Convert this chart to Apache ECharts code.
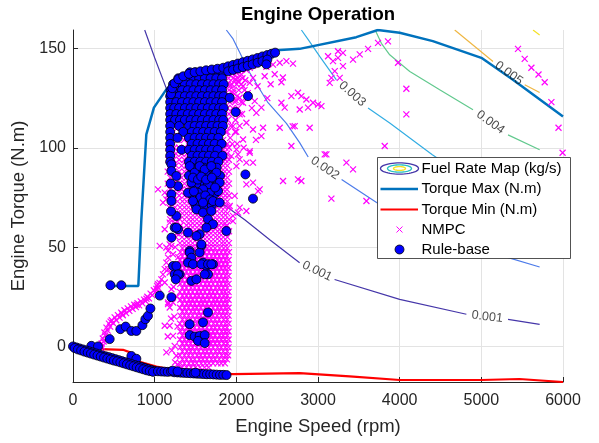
<!DOCTYPE html>
<html><head><meta charset="utf-8">
<script src="https://cdn.jsdelivr.net/npm/echarts@6/dist/echarts.min.js"></script>
<style>html,body{margin:0;padding:0;background:#fff}#c{width:599px;height:443px}</style>
</head><body><div id="c"></div>
<script>
// ---------- axes ----------
const xTicks = [0, 1000, 2000, 3000, 4000, 5000, 6000];
const yTicks = [0, 50, 100, 150];
const xRange = [0, 6000];
const yRange = [-17.9, 159.3];

// ---------- torque limits ----------
const torqueMax = [[450,30.4],[800,30.4],[837,64],[898,106.8],[991,120.2],[1143,129.4],[1300,132],[1500,135],[1800,138.5],[2100,142.5],[2490,149.1],[2775,149.8],[3469,155.7],[3733,159.3],[4000,157.9],[4406,153.7],[5000,145.3],[5383,134.4],[6000,115.7]];
const torqueMin = [[260,-1.2],[612,-1.7],[700,-3],[817,-7.7],[1021,-10.1],[1300,-12.3],[1600,-13.3],[1959,-13.9],[2776,-13.4],[3388,-15.1],[4001,-16.9],[5001,-16.9],[5466,-16.4],[6000,-17.9]];

// ---------- fuel rate contours (null = label gap) ----------
const contourLevels = ['0.001','0.002','0.003','0.004','0.005','0.006'];
const contour001 = [[878,159.3],[1000,145.3],[1147,129.4],[1300,112],[1500,92],[1714,77],[1817,72.2],[2103,63.8],[2409,53.7],[2775,42.1],null,[3203,33.7],[4000,23.7],[4817,16.2],null,[5327,13.6],[5714,11.1]];
const contour002 = [[1878,159.3],[1960,154.8],[2164,137.8],[2388,122.7],[2613,112.3],[2775,102.6],[2880,95.4],null,[3289,84],[3717,72.5],[4200,62],[4700,53],[5309,45],[5714,40]];
const contour003 = [[2797,159.3],[2878,154.6],[3021,146],[3225,134.2],null,[3613,120],[3878,112.5],[4400,96.5],[5000,80],[5714,66]];
const contour004 = [[3700,159.3],[3776,152.6],[3878,146.8],[4124,138.4],[4490,129.2],[4898,119.1],null,[5327,106.5],[5714,99]];
const contour005 = [[4674,159.3],[5143,143.4],null,[5531,131.7],[5714,127.8]];
const contour006 = [[5633,159.3],[5714,156.8]];

// ---------- NMPC (speed, torque) ----------
const nmpcTrail = [[350,1.5],[365,4],[385,7],[410,9.5],[440,11.5],[475,13.2],[510,14.6],[550,15.8],[590,17],[630,18.2],[670,19.2],[710,20.2],[750,21],[790,21.8],[830,22.7],[870,23.6],[910,25],[950,26.6],[990,28.3],[1030,30.5],[1060,32],
[355,0],[375,2.5],[395,5.5],[425,8],[455,10],[490,11.8],[530,13.2],[570,14.5],[610,15.7],[650,16.8],[690,17.9],[730,18.9],[770,19.8],[810,20.7],[850,21.7],[890,22.8],[930,24.2],[970,25.8],[1010,27.5],[1045,29.5],
[345,-1],[460,12.5],[600,16.5],[780,21],[900,24],[1020,29]];
// rows: [torque, speed, speed, ...]
const nmpcRows = [
[-10.5,1335,1390,1445,1500,1555,1610,1660],
[-8.5,1315,1365,1420,1470,1515,1570,1620,1665,1715,1770,1815,1860],
[-6.5,1340,1390,1445,1490,1545,1590,1640,1695,1740,1790,1840,1885],
[-4.5,1310,1365,1415,1465,1520,1565,1615,1665,1715,1765,1820,1865,1900],
[-2.5,1340,1395,1440,1490,1540,1595,1640,1690,1745,1790,1840,1890],
[-0.5,1315,1365,1420,1465,1515,1565,1620,1665,1715,1770,1815,1865,1905],
[1.5,1340,1390,1440,1495,1540,1590,1645,1690,1740,1790,1845,1890],
[3.5,1310,1365,1415,1465,1520,1565,1615,1670,1715,1765,1815,1860,1905],
[5.5,1340,1390,1445,1490,1540,1595,1640,1690,1740,1795,1840,1890],
[7.5,1315,1365,1415,1470,1515,1565,1620,1665,1715,1765,1820,1865,1905],
[9.5,1340,1395,1440,1490,1545,1590,1640,1695,1740,1790,1840,1885],
[11.5,1310,1365,1420,1465,1515,1570,1615,1665,1720,1765,1815,1865,1905],
[13.5,1340,1390,1440,1495,1540,1590,1645,1690,1740,1790,1845,1890],
[15.5,1315,1365,1415,1465,1520,1565,1615,1670,1715,1765,1815,1860,1905],
[17.5,1340,1390,1445,1490,1540,1595,1640,1690,1745,1790,1840,1890],
[19.5,1310,1365,1415,1470,1515,1565,1620,1665,1715,1770,1815,1865,1905],
[21.5,1340,1395,1440,1490,1545,1590,1640,1695,1740,1790,1840,1885],
[23.5,1315,1365,1420,1465,1515,1570,1615,1665,1720,1765,1815,1865,1905],
[25.5,1340,1390,1440,1495,1540,1590,1645,1690,1740,1795,1845,1890],
[27.5,1310,1365,1415,1465,1520,1565,1615,1670,1715,1765,1820,1860,1905],
[29.5,1340,1390,1445,1490,1540,1595,1640,1690,1745,1790,1840,1890],
[31.5,1315,1365,1415,1470,1515,1565,1620,1665,1715,1770,1815,1865,1905],
[33.5,1340,1395,1440,1490,1545,1590,1640,1695,1740,1790,1840,1885],
[35.5,1310,1365,1420,1465,1515,1570,1615,1665,1720,1765,1815,1865,1905],
[37.5,1340,1390,1440,1495,1540,1590,1645,1690,1740,1790,1845,1890],
[39.5,1315,1365,1415,1465,1520,1565,1615,1670,1715,1765,1815,1860,1905],
[41.5,1340,1390,1445,1490,1540,1595,1640,1690,1745,1790,1840,1890],
[43.5,1310,1365,1415,1470,1515,1565,1620,1665,1715,1770,1815,1865,1905],
[45.5,1340,1395,1440,1490,1545,1590,1640,1695,1740,1790,1840,1885],
[47.5,1315,1365,1420,1465,1515,1570,1615,1665,1720,1765,1815,1865,1910],
[49.5,1340,1390,1440,1495,1540,1590,1645,1690,1740,1795,1845,1890],
[52,1310,1365,1415,1465,1520,1565,1615,1670,1715,1765,1820,1860,1910],
[55,1335,1390,1445,1490,1540,1595,1640,1690,1745,1790,1840,1890],
[58,1300,1360,1415,1470,1515,1565,1620,1665,1715,1770,1815,1865,1910],
[61,1320,1390,1440,1490,1545,1590,1640,1695,1740,1790,1840,1885],
[64,1190,1250,1310,1365,1420,1465,1515,1570,1615,1665,1720,1765,1815,1865,1910],
[67,1220,1280,1340,1390,1440,1495,1540,1590,1645,1690,1740,1795,1845,1890],
[70,1180,1250,1310,1365,1415,1465,1520,1565,1615,1670,1715,1765,1815,1860,1910],
[73,1220,1280,1340,1390,1445,1490,1540,1595,1640,1690,1745,1790,1840,1890],
[76,1160,1230,1300,1365,1415,1470,1515,1565,1620,1665,1715,1770,1815,1865,1910],
[79,1190,1260,1330,1395,1440,1490,1545,1590,1640,1695,1740,1790,1840,1885],
[82,1160,1230,1300,1365,1420,1465,1515,1570,1615,1665,1720,1765,1815,1865,1910],
[85,1190,1260,1330,1390,1440,1495,1540,1590,1645,1690,1740,1795,1845,1890],
[88,1160,1230,1300,1365,1415,1465,1520,1565,1615,1670,1715,1765,1815,1860,1910],
[91,1190,1260,1330,1390,1445,1490,1540,1595,1640,1690,1745,1790,1840,1890],
[94,1170,1230,1300,1365,1415,1470,1515,1565,1620,1665,1715,1770,1815,1865,1910],
[97,1200,1260,1330,1395,1440,1490,1545,1590,1640,1695,1740,1790,1840,1885],
[100,1170,1240,1300,1365,1420,1465,1515,1570,1615,1665,1720,1765,1815,1865,1910],
[104,1200,1280,1360,1440,1520,1600,1680,1760,1840],
[108,1230,1310,1390,1470,1550,1630,1710,1790,1870],
[112,1200,1280,1360,1440,1520,1600,1680,1760,1840],
[102,1890,2010],[105,1925],[108,1890,1985],[111,1930,2040],[114,1895,1990],[117,1910,2070],
[120,1890,1955,2020],[123,1920,1985,2060],[126,1890,1950,2010],[129,1910,1965,2030,2100],
[132,1890,1945,2005,2060],[135,1905,1960,2020,2075],[138,1890,1945,2000],[141,1900,1950]
];
const nmpcScatter = [
[1102,36.3],[1164,38.9],[1123,32.2],[1205,28.8],[1164,22.1],[1184,19.6],[1123,10.4],[1184,10.4],[1225,5.3],[1143,-3],[1245,0.3],[1266,-4.7],[1123,59],[1184,62.3],[1143,49.8],[1164,44.7],[1225,46.4],[1184,37.2],[1225,22.1],[1164,21.3],[1041,31.3],[1082,33.8],[1123,38.9],[1143,42.2],[1164,48.1],[1184,51.4],[1062,50.6],[1205,50.6],[1240,15],[1270,25],[1250,-8],[1280,10],[1210,-2],[1290,45],[1260,55],[1280,-9],[1230,30],[1160,5],[1200,14],[1270,35],[1250,62],[1270,57],[1250,50],[1280,41],
[1939,138.6],[2001,137.8],[2062,136.9],[2123,139.1],[2164,140.3],[2204,141.4],[2245,142.4],[2307,142.8],[2368,140.8],[2531,142.8],[2613,143.6],[2694,142.4],[2449,141.9],[2552,133],[2347,136],[2204,135.2],[2164,132.7],[2082,131],[2021,133.5],[1959,127.7],[2041,125.2],[2082,122.7],[2225,123.5],[2307,120.2],[2245,117.6],[2041,116.8],[2123,112.6],[1959,110.9],[2204,109.2],[2307,105.9],[2082,104.2],[2001,99.2],[2164,97.5],[2041,94.2],[2204,92.5],[2327,110.1],[2531,110.1],[2715,110.9],[2898,110.1],[2674,100.9],[3103,96.7],[3348,92.5],[2552,122.7],[2755,127.7],[2796,126],[2858,124.3],[2939,122.7],[3000,121.8],[3042,121],[2776,119.3],[2878,120.2],[2592,120.2],[3143,132.7],[3245,145.3],[3306,147.8],[3511,147],[3735,152.8],[3817,100.9],[2674,126],[2570,135.4],[2690,110.8],
[3245,148.6],[3184,143.6],[3123,146.1],[3205,138.6],[3164,135.2],[3266,135.2],[3306,141.1],[3429,144.4],[3613,149.8],[3857,153.6],[3980,142.8],[4082,129.7],[4082,116.8],[3082,96.7],[3429,89.1],[2796,83.3],[3164,74.4],[3593,73.2],
[5449,149.8],[5531,144.8],[5613,140.3],[5700,136.9],[5776,133],[5858,123],[5945,110.1],[5995,97.5],
[2123,81.6],[2286,79.1],[1980,75.8],[2041,69.9],[2572,83.3],[2755,84.1],[1959,65.7],
[1939,95.8],[2021,96.7],[2123,92.5],[2164,98.3],[2001,90.8],[2204,82.5],[2266,78.2],[2123,68.2],[1919,70.7],[2021,67.4],[1878,60.6],[1959,63.1],
[1102,72.4],[1143,74],[1041,79.1],[1123,77.4],
[1985,134.5],[2050,139.5],[2110,134],[1930,131.5],[1990,124],[2140,127.5],[2260,131],[2190,120],[2000,108],[2090,100],[1950,102],[2240,104],[2380,125],[2420,132],[2470,137]
];

// ---------- Rule-base (speed, torque) ----------
const ruleRows = [
[138,1430,1500,1570,1640,1710,1780,1840],
[135,1290,1335,1405,1475,1545,1615,1685,1755,1825],
[132,1225,1270,1330,1370,1440,1510,1580,1650,1720,1790,1845],
[129,1195,1265,1335,1405,1475,1545,1615,1685,1755,1825],
[126,1190,1240,1300,1370,1440,1510,1580,1650,1720,1790,1845],
[123,1190,1265,1335,1405,1475,1545,1615,1685,1755,1825],
[120,1190,1240,1300,1370,1440,1510,1580,1650,1720,1790,1845],
[117,1190,1265,1335,1405,1475,1545,1615,1685,1755,1825],
[114,1190,1250,1310,1370,1440,1510,1580,1650,1720,1790,1840],
[111,1190,1300,1420,1490,1560,1630,1700,1770,1835],
[108,1190,1350,1455,1525,1595,1665,1735,1810],
[105,1190,1280,1420,1490,1560,1630,1700,1780],
[102,1190,1455,1525,1595,1665,1735,1820],
[99,1190,1330,1420,1490,1560,1630,1700,1770],
[96,1190,1455,1525,1595,1665,1740,1830],
[93,1190,1420,1490,1560,1630,1700,1780],
[90,1455,1530,1605,1680,1760],
[86,1420,1495,1570,1645,1720,1800],
[82,1460,1540,1615,1690,1770],
[77,1440,1540,1640,1740],
[71,1500,1600,1700]
];
const ruleScatter = [
[1200,127],[1215,130],[1245,132.5],[1290,134.5],[1350,136],[1420,137.2],[1490,138],[1560,138.5],[1630,139],[1700,139.4],[1770,139.8],[1840,140.3],[1900,141],[1960,141.7],[2020,142.4],[2080,143.1],[2140,143.8],[2200,144.5],[2260,145.2],[2320,146],[2380,146.7],[2430,147.3],[2475,147.9],
[1900,138.5],[1960,139.2],[2020,139.9],[2080,140.6],[2140,141.3],[2200,142],[2260,142.8],[2320,143.6],[2380,144.4],
[2368,142],[2143,126],[1992,118],[2111,86.6],[2204,74.4],[1919,125.2],
[1205,91.7],[1205,88.3],[1266,85.8],[1286,80.7],[1205,76.6],[1205,73.2],[1266,65.7],[1286,59],[1205,54.8],[1245,59.8],[1195,82],[1200,68],
[1429,90.8],[1490,87.5],[1551,90.8],[1613,89.1],[1694,90.8],[1756,87.5],[1796,82.5],[1776,78.2],[1674,77.4],[1653,81.6],[1592,79.1],[1531,77.4],[1450,82.5],[1408,77.4],
[1470,85],[1530,84],[1570,85.5],[1630,84],[1700,85],[1740,80],[1480,78],[1560,75],[1620,76],[1680,74],
[1469,73.2],[1592,72.4],[1714,73.2],[1796,72.4],[1511,69],[1592,67.4],[1694,68.2],[1653,64],[1714,61.5],[1633,59.8],[1551,56.5],[1511,55.6],[1878,58.1],[1429,48.1],[1572,50.6],[1551,47.3],
[1408,57.3],[1572,51.4],[1592,42.2],[1633,40.5],[1714,41.4],[1653,36.3],[1225,40.5],[1245,36.3],[1306,36.3],[1450,33],[1511,33.8],
[1429,47.3],[1450,44.7],[1408,42.2],[1469,41.4],[1572,41.4],[1653,41.4],[1694,41.4],[1613,36.3],[1266,40.5],[1286,36.3],[1258,33.8],
[1653,17.1],[1429,11.2],[1592,12.1],[1429,5.7],[1490,5],[1551,5.3],[1613,5.7],[1531,2.8],[1613,1.7],
[458,30.8],[592,30.8],[449,3.7],[580,8.7],[645,10],[715,7.8],[776,7.8],[850,10.7],[886,13.7],[918,15.4],[948,19.1],[1062,25.6],[1205,24.8],[1266,59.8],
[225,0.3],[306,0],[715,-4.8],[776,-6.2],
[0,0],[40,-0.5],[80,-1],[120,-1.5],[160,-2],[200,-2.5],[240,-3],[280,-3.5],[320,-4],[360,-4.5],[400,-5],[440,-5.4],[480,-5.9],[520,-6.4],[560,-6.9],[600,-7.4],[640,-7.9],[680,-8.4],[720,-8.9],[760,-9.4],[800,-9.8],[840,-10.3],[880,-10.8],[920,-11.3],[960,-11.8],[1000,-12.3],
[20,-0.8],[60,-1.5],[100,-2],[140,-2.6],[180,-3.1],[220,-3.6],[260,-4.1],[300,-4.6],[340,-5.1],[380,-5.6],[420,-6.1],[460,-6.6],[500,-7.1],[540,-7.5],[580,-8],[620,-8.5],[660,-9],[700,-9.5],[740,-10],[780,-10.5],[820,-11],[860,-11.5],[900,-12],[940,-12.4],[980,-12.8],
[1040,-12.5],[1080,-12.6],[1120,-12.7],[1160,-12.8],[1200,-12.6],[1240,-13],[1280,-13.1],[1320,-13.2],[1360,-13.3],[1400,-13.4],[1440,-13.5],[1480,-13.6],[1520,-13.7],[1560,-13.8],[1600,-13.9],[1640,-14],[1680,-14],[1720,-14.1],[1760,-14.2],[1800,-14.3],[1840,-14.3],[1880,-14.4],[1220,-12.2],[1280,-12.5],[1500,-13.2]
];

// ---------- build ----------
const FONT = "'Liberation Sans', Arial, Helvetica, sans-serif";
function rowsToPoints(rows){ const out=[]; rows.forEach(r=>{ for(let i=1;i<r.length;i++) out.push([r[i], r[0]]); }); return out; }
const nmpcData = nmpcTrail.concat(rowsToPoints(nmpcRows), nmpcScatter);
const ruleData = rowsToPoints(ruleRows).concat(ruleScatter);

const contourDefs = [
  {text: contourLevels[0], color:'#4536a9', data: contour001},
  {text: contourLevels[1], color:'#4c7bea', data: contour002},
  {text: contourLevels[2], color:'#33ade3', data: contour003},
  {text: contourLevels[3], color:'#62c98e', data: contour004},
  {text: contourLevels[4], color:'#efb744', data: contour005},
  {text: contourLevels[5], color:'#f4e124', data: contour006}
];

const chart = echarts.init(document.getElementById('c'));
const series = contourDefs.map(c => ({
  type:'line', name:'Fuel Rate Map (kg/s)', data:c.data, showSymbol:false, symbol:'none',
  connectNulls:false, lineStyle:{color:c.color, width:1.2}, itemStyle:{color:c.color}, z:1, silent:true
}));
series.push({type:'line', name:'Torque Max (N.m)', data:torqueMax, showSymbol:false, symbol:'none', lineStyle:{color:'#0072bd', width:2.5}, z:2, silent:true});
series.push({type:'line', name:'Torque Min (N.m)', data:torqueMin, showSymbol:false, symbol:'none', lineStyle:{color:'#ff0000', width:2.2}, z:2, silent:true});
series.push({type:'scatter', name:'NMPC', data:nmpcData, symbol:'path://M0,0L10,10M10,0L0,10', symbolSize:6,
  itemStyle:{color:'rgba(0,0,0,0)', borderColor:'#ff00ff', borderWidth:1.2, opacity:1}, z:3, silent:true, large:false});
series.push({type:'scatter', name:'Rule-base', data:ruleData, symbol:'circle', symbolSize:9,
  itemStyle:{color:'#0000ff', borderColor:'#000', borderWidth:0.8, opacity:1}, z:4, silent:true, large:false});

function ellipsePts(cx,cy,rx,ry){ const p=[]; for(let i=0;i<48;i++){const t=i/48*2*Math.PI; p.push([cx+rx*Math.cos(t), cy+ry*Math.sin(t)]);} return p; }
const lx = 399.5, tx = 421.5, rowsY = [168.5, 189, 209.5, 229.5, 249.5];
const legendTexts = ['Fuel Rate Map (kg/s)','Torque Max (N.m)','Torque Min (N.m)','NMPC','Rule-base'];
const graphic = [
  {type:'text', x:318, y:15, style:{text:'Engine Operation', font:"bold 18.5px "+FONT, fill:'#000', align:'center', verticalAlign:'middle'}, z:100},
  {type:'rect', shape:{x:377.5,y:157.5,width:193,height:101}, style:{fill:'#fff', stroke:'#262626', lineWidth:0.8}, z:100},
  {type:'polygon', shape:{points:ellipsePts(lx,rowsY[0],19,5.6)}, style:{fill:'none', stroke:'#4536a9', lineWidth:1.3}, z:101},
  {type:'polygon', shape:{points:ellipsePts(lx,rowsY[0],12,3.6)}, style:{fill:'none', stroke:'#25c0c0', lineWidth:1.3}, z:101},
  {type:'polygon', shape:{points:ellipsePts(lx,rowsY[0],6,1.9)}, style:{fill:'none', stroke:'#f4e124', lineWidth:1.3}, z:101},
  {type:'line', shape:{x1:380.5,y1:rowsY[1],x2:418,y2:rowsY[1]}, style:{stroke:'#0072bd', lineWidth:2.5}, z:101},
  {type:'line', shape:{x1:380.5,y1:rowsY[2],x2:418,y2:rowsY[2]}, style:{stroke:'#ff0000', lineWidth:2.2}, z:101},
  {type:'line', shape:{x1:lx-3,y1:rowsY[3]-3,x2:lx+3,y2:rowsY[3]+3}, style:{stroke:'#ff00ff', lineWidth:1}, z:101},
  {type:'line', shape:{x1:lx+3,y1:rowsY[3]-3,x2:lx-3,y2:rowsY[3]+3}, style:{stroke:'#ff00ff', lineWidth:1}, z:101},
  {type:'circle', shape:{cx:lx, cy:rowsY[4], r:4.5}, style:{fill:'#0000ff', stroke:'#000', lineWidth:0.8}, z:101}
];
legendTexts.forEach((t,i)=>graphic.push({type:'text', x:tx, y:rowsY[i], style:{text:t, font:"15px "+FONT, fill:'#000', align:'left', verticalAlign:'middle'}, z:101}));

const option = {
  animation:false,
  backgroundColor:'#fff',
  grid:{left:73, right:36, top:30, bottom:61, containLabel:false, outerBoundsMode:'none'},
  xAxis:{type:'value', min:xRange[0], max:xRange[1], interval:1000,
    name:'Engine Speed (rpm)', nameLocation:'middle', nameGap:35,
    nameTextStyle:{fontSize:18.5, color:'#262626', fontFamily:FONT},
    axisLine:{show:true, onZero:false, lineStyle:{color:'#262626', width:1}},
    axisTick:{show:true, inside:true, length:5, lineStyle:{color:'#262626'}},
    axisLabel:{color:'#262626', fontSize:16, fontFamily:FONT, margin:11, formatter:v => String(v)},
    splitLine:{show:true, lineStyle:{color:'#e3e3e3', width:1}}},
  yAxis:{type:'value', min:yRange[0], max:yRange[1],
    name:'Engine Torque (N.m)', nameLocation:'middle', nameGap:39,
    nameTextStyle:{fontSize:18.5, color:'#262626', fontFamily:FONT},
    axisLine:{show:true, onZero:false, lineStyle:{color:'#262626', width:1}},
    axisTick:{show:true, inside:true, length:5, customValues:yTicks, lineStyle:{color:'#262626'}},
    axisLabel:{color:'#262626', fontSize:16, fontFamily:FONT, margin:7, customValues:yTicks, formatter:v => String(v)},
    splitLine:{show:true, lineStyle:{color:'#e3e3e3', width:1}}},
  series:series,
  graphic:graphic
};
chart.setOption(option);

// contour labels placed in the gaps of each contour line, rotated along the line
const labelData = [];
contourDefs.forEach(c => {
  c.data.forEach((p,i) => {
    if (p === null) {
      const a = c.data[i-1], b = c.data[i+1];
      const pa = chart.convertToPixel({gridIndex:0}, a), pb = chart.convertToPixel({gridIndex:0}, b);
      const rot = -Math.atan2(pb[1]-pa[1], pb[0]-pa[0]) * 180 / Math.PI;
      labelData.push({value:[(a[0]+b[0])/2, (a[1]+b[1])/2], label:{rotate:rot, formatter:c.text}});
    }
  });
});
series.push({type:'scatter', name:'contourLabels', data:labelData, symbol:'circle', symbolSize:1,
  itemStyle:{color:'rgba(0,0,0,0)'}, z:5, silent:true,
  label:{show:true, position:'inside', color:'#1a1a1a', fontSize:12.5, fontFamily:FONT}});
chart.setOption({series:series});
</script>
</body></html>
